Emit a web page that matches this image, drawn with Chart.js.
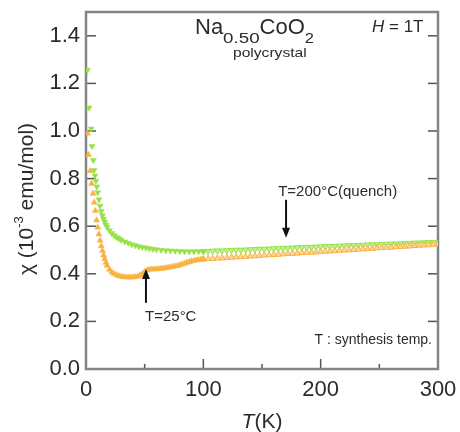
<!DOCTYPE html>
<html>
<head>
<meta charset="utf-8">
<script src="https://cdn.jsdelivr.net/npm/chart.js@4/dist/chart.umd.min.js"></script>
<style>
  html,body{margin:0;padding:0;background:#fff;}
  canvas{display:block;}
</style>
</head>
<body>
<canvas id="chi" width="460" height="432"></canvas>
<script>
// Na0.50CoO2 polycrystal, chi(T) at H = 1T
const xTicks = [0, 100, 200, 300];
const xMinor = [50, 150, 250];
const yTicks = [0, 0.2, 0.4, 0.6, 0.8, 1.0, 1.2, 1.4];

// T=200°C (quench) - green, dense below 100 K
const quenchLowT   = [1.2, 2.6, 4.3, 5.1, 6.2, 6.8, 7.6, 8.4, 9.2, 10, 11, 12, 13, 14, 15, 16, 17, 18, 20, 22, 24, 26, 28, 30, 33, 36, 39, 42, 45, 48, 51, 54, 57, 60, 64, 68, 72, 76, 80, 84, 88, 92, 96, 100];
const quenchLowChi = [1.256, 1.098, 1.009, 0.936, 0.877, 0.835, 0.812, 0.79, 0.766, 0.742, 0.712, 0.685, 0.663, 0.645, 0.630, 0.618, 0.605, 0.596, 0.582, 0.570, 0.561, 0.554, 0.548, 0.542, 0.535, 0.529, 0.523, 0.519, 0.515, 0.512, 0.509, 0.506, 0.504, 0.502, 0.500, 0.498, 0.497, 0.496, 0.495, 0.494, 0.494, 0.494, 0.494, 0.494];

// T=25°C - orange, dense below 100 K
const roomLowT   = [1.2, 2.2, 3.4, 4.8, 6, 7, 8, 9, 10, 11, 12, 13, 14, 15, 16, 17, 18, 20, 22, 24, 26, 28, 30, 32, 34, 36, 38, 40, 42, 44, 46, 48, 50, 52, 54, 56, 58, 60, 62, 64, 66, 68, 70, 72, 74, 76, 78, 80, 82, 84, 86, 88, 90, 92, 94, 96, 98, 100];
const roomLowChi = [0.99, 0.90, 0.832, 0.779, 0.737, 0.700, 0.665, 0.625, 0.595, 0.566, 0.540, 0.517, 0.497, 0.478, 0.462, 0.447, 0.435, 0.418, 0.407, 0.400, 0.395, 0.391, 0.389, 0.387, 0.386, 0.385, 0.385, 0.386, 0.387, 0.389, 0.393, 0.399, 0.408, 0.415, 0.418, 0.419, 0.419, 0.420, 0.421, 0.422, 0.423, 0.424, 0.426, 0.428, 0.430, 0.432, 0.434, 0.437, 0.440, 0.443, 0.447, 0.450, 0.453, 0.455, 0.457, 0.459, 0.460, 0.461];

// above 100 K (open markers)
const highT = [100, 104, 108, 112, 116, 120, 124, 128, 132, 136, 140, 144, 148, 152, 156, 160, 164, 168, 172, 176, 180, 184, 188, 192, 196, 200, 204, 208, 212, 216, 220, 224, 228, 232, 236, 240, 244, 248, 252, 256, 260, 264, 268, 272, 276, 280, 284, 288, 292, 296, 300];
const quenchHighChi = [0.494, 0.495, 0.496, 0.497, 0.497, 0.498, 0.499, 0.500, 0.500, 0.501, 0.502, 0.503, 0.504, 0.504, 0.505, 0.506, 0.507, 0.508, 0.508, 0.509, 0.510, 0.511, 0.512, 0.512, 0.513, 0.514, 0.515, 0.515, 0.516, 0.517, 0.518, 0.519, 0.519, 0.520, 0.521, 0.522, 0.523, 0.523, 0.524, 0.525, 0.526, 0.526, 0.527, 0.528, 0.529, 0.530, 0.530, 0.531, 0.532, 0.533, 0.533];
const roomHighChi   = [0.461, 0.463, 0.464, 0.465, 0.466, 0.467, 0.469, 0.470, 0.471, 0.472, 0.474, 0.475, 0.476, 0.478, 0.479, 0.480, 0.481, 0.483, 0.484, 0.485, 0.486, 0.488, 0.489, 0.490, 0.491, 0.493, 0.494, 0.495, 0.496, 0.498, 0.499, 0.500, 0.501, 0.503, 0.504, 0.505, 0.506, 0.508, 0.509, 0.510, 0.511, 0.513, 0.514, 0.515, 0.516, 0.518, 0.519, 0.520, 0.521, 0.523, 0.524];

const GREEN = 'rgb(150,226,72)', GREEN_L = 'rgba(190,240,140,0.9)';
const ORANGE = 'rgb(249,178,66)', ORANGE_L = 'rgba(252,212,150,0.9)';
const FONT = '"Liberation Sans", Arial, sans-serif';
const TXT = '#2b2b2b';

const pts = (xs, ys) => xs.map((t,i)=>({x:t, y:ys[i]}));

// texto con escala horizontal opcional
function txt(ctx, s, x, y, size, opt){
  opt = opt||{};
  ctx.save();
  ctx.font = (opt.italic?'italic ':'') + size + 'px ' + FONT;
  ctx.fillStyle = TXT;
  ctx.textBaseline = 'alphabetic';
  ctx.translate(x, y);
  ctx.scale(opt.sx||1, 1);
  ctx.textAlign = opt.align||'left';
  ctx.fillText(s, 0, 0);
  const w = ctx.measureText(s).width*(opt.sx||1);
  ctx.restore();
  return w;
}
function arrow(ctx, x, y0, y1){
  // y1 = punta
  const dir = y1>y0 ? 1 : -1;
  ctx.save();
  ctx.strokeStyle='#111'; ctx.fillStyle='#111'; ctx.lineWidth=2;
  ctx.beginPath(); ctx.moveTo(x,y0); ctx.lineTo(x,y1-dir*8); ctx.stroke();
  ctx.beginPath(); ctx.moveTo(x,y1); ctx.lineTo(x-4,y1-dir*10); ctx.lineTo(x+4,y1-dir*10); ctx.closePath(); ctx.fill();
  ctx.restore();
}
const noPad = s => { s.paddingTop=0; s.paddingBottom=0; s.paddingLeft=0; s.paddingRight=0; };

const frame = {
  id:'frame',
  beforeDatasetsDraw(chart){
    const {ctx, chartArea:a, scales:{x,y}} = chart;
    ctx.save();
    ctx.strokeStyle='#555'; ctx.lineWidth=1.5;
    const ln=(x0,y0,x1,y1)=>{ctx.beginPath();ctx.moveTo(x0,y0);ctx.lineTo(x1,y1);ctx.stroke();};
    yTicks.forEach(v=>{
      const py=y.getPixelForValue(v);
      ln(a.left,py,a.left+10,py); ln(a.right-10,py,a.right,py);
    });
    xTicks.forEach(v=>{ const px=x.getPixelForValue(v); ln(px,a.bottom,px,a.bottom-10); });
    xMinor.forEach(v=>{ const px=x.getPixelForValue(v); ln(px,a.bottom,px,a.bottom-5); });
    ctx.strokeStyle='#858585'; ctx.lineWidth=2.5;
    ctx.strokeRect(a.left,a.top,a.right-a.left,a.bottom-a.top);
    ctx.restore();
  },
  afterDraw(chart){
    const {ctx, scales:{x,y}} = chart;
    // titulo
    let cx = 195;
    cx += txt(ctx,'Na',cx,34,22);
    cx += txt(ctx,'0.50',cx,43,15,{sx:1.25});
    cx += txt(ctx,'CoO',cx,34,22);
    txt(ctx,'2',cx,43,15,{sx:1.1});
    txt(ctx,'polycrystal',233,57,13,{sx:1.2});
    let hx = 372;
    hx += txt(ctx,'H',hx,32,17,{italic:true});
    txt(ctx,' = 1T',hx,32,17);

    // flechas
    const qx = x.getPixelForValue(170.5);
    arrow(ctx, qx, y.getPixelForValue(0.711), y.getPixelForValue(0.551));
    txt(ctx,'T=200°C(quench)', x.getPixelForValue(163.8), y.getPixelForValue(0.725), 15);
    const rx = x.getPixelForValue(51.1);
    arrow(ctx, rx, y.getPixelForValue(0.278), y.getPixelForValue(0.42));
    txt(ctx,'T=25°C', x.getPixelForValue(50.3), y.getPixelForValue(0.202), 15);
    txt(ctx,'T : synthesis temp.', 432, 344, 14, {align:'right'});

    // titulos de ejes
    ctx.save();
    ctx.translate(27, 199); ctx.rotate(-Math.PI/2);
    ctx.font = '21px ' + FONT;
    const p1='χ (10', p3=' emu/mol)';
    const w1=ctx.measureText(p1).width, w3=ctx.measureText(p3).width;
    ctx.font = '13px ' + FONT; const w2=ctx.measureText('-3').width;
    const tot=w1+w2+w3;
    let sx=-tot/2;
    ctx.fillStyle=TXT; ctx.textBaseline='middle';
    ctx.font='21px ' + FONT; ctx.fillText(p1,sx,0); sx+=w1;
    ctx.font='13px ' + FONT; ctx.fillText('-3',sx,-8); sx+=w2;
    ctx.font='21px ' + FONT; ctx.fillText(p3,sx,0);
    ctx.restore();

    ctx.save();
    ctx.font='21px '+FONT;
    const wt=ctx.measureText('T').width, wk=ctx.measureText('(K)').width;
    const mid=(x.left+x.right)/2, x0=mid-(wt+wk)/2;
    txt(ctx,'T',x0,428,21,{italic:true});
    txt(ctx,'(K)',x0+wt,428,21);
    ctx.restore();
  }
};

new Chart(document.getElementById('chi'), {
  type:'scatter',
  data:{
    datasets:[
      {label:'T=25°C', data:pts(roomLowT, roomLowChi), pointStyle:'triangle', pointRadius:3.5,
       backgroundColor:ORANGE, borderColor:ORANGE, borderWidth:0.5},
      {label:'T=25°C >100K', data:pts(highT, roomHighChi), pointStyle:'triangle', pointRadius:3.5,
       backgroundColor:ORANGE_L, borderColor:ORANGE, borderWidth:1},
      {label:'T=200°C(quench)', data:pts(quenchLowT, quenchLowChi), pointStyle:'triangle', rotation:180, pointRadius:3.5,
       backgroundColor:GREEN, borderColor:GREEN, borderWidth:0.5},
      {label:'T=200°C(quench) >100K', data:pts(highT, quenchHighChi), pointStyle:'triangle', rotation:180, pointRadius:3.5,
       backgroundColor:GREEN_L, borderColor:GREEN, borderWidth:1}
    ]
  },
  options:{
    responsive:false, animation:false, devicePixelRatio:1,
    layout:{padding:{top:12,right:22,left:0,bottom:0}},
    plugins:{legend:{display:false}, tooltip:{enabled:false}},
    scales:{
      x:{type:'linear', min:0, max:300,
        afterBuildTicks:s=>{s.ticks=xTicks.map(v=>({value:v}));},
        afterFit:s=>{s.height=63; noPad(s);},
        ticks:{font:{family:FONT,size:22}, color:TXT, padding:8, maxRotation:0, autoSkip:false},
        grid:{display:false, drawTicks:false}, border:{display:false}},
      y:{type:'linear', min:0, max:1.5,
        afterBuildTicks:s=>{s.ticks=yTicks.map(v=>({value:v}));},
        afterFit:s=>{s.width=86; noPad(s);},
        ticks:{font:{family:FONT,size:22}, color:TXT, padding:6, callback:v=>Number(v).toFixed(1)},
        grid:{display:false, drawTicks:false}, border:{display:false}}
    }
  },
  plugins:[frame]
});
</script>
</body>
</html>
